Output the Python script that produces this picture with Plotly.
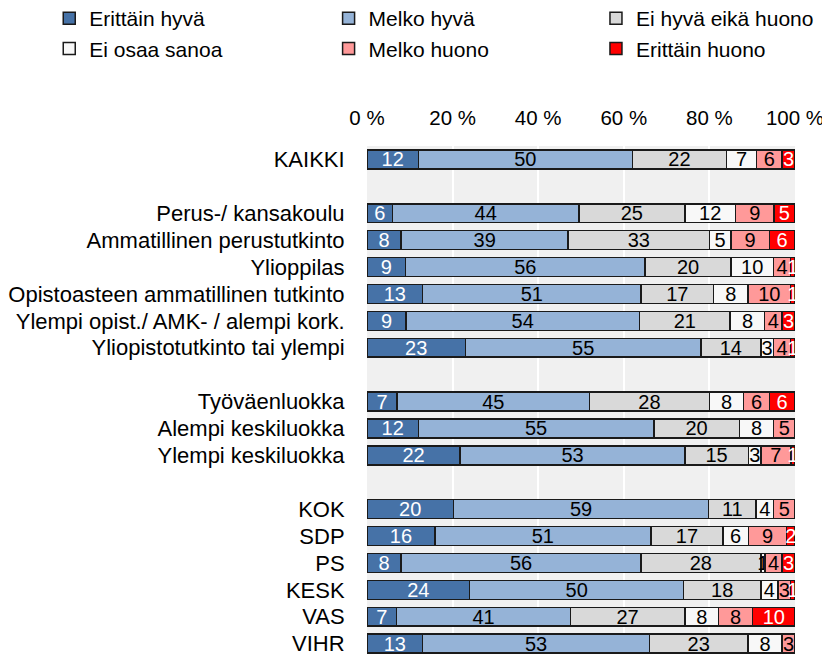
import plotly.graph_objects as go

categories = [
    "KAIKKI", " ",
    "Perus-/ kansakoulu", "Ammatillinen perustutkinto", "Ylioppilas",
    "Opistoasteen ammatillinen tutkinto", "Ylempi opist./ AMK- / alempi kork.",
    "Yliopistotutkinto tai ylempi", "  ",
    "Työväenluokka", "Alempi keskiluokka", "Ylempi keskiluokka", "   ",
    "KOK", "SDP", "PS", "KESK", "VAS", "VIHR",
]

erittain_hyva = [12, None, 6, 8, 9, 13, 9, 23, None, 7, 12, 22, None, 20, 16, 8, 24, 7, 13]
melko_hyva = [50, None, 44, 39, 56, 51, 54, 55, None, 45, 55, 53, None, 59, 51, 56, 50, 41, 53]
ei_hyva_eika_huono = [22, None, 25, 33, 20, 17, 21, 14, None, 28, 20, 15, None, 11, 17, 28, 18, 27, 23]
ei_osaa_sanoa = [7, None, 12, 5, 10, 8, 8, 3, None, 8, 8, 3, None, 4, 6, 1, 4, 8, 8]
melko_huono = [6, None, 9, 9, 4, 10, 4, 4, None, 6, 5, 7, None, 5, 9, 4, 3, 8, 3]
erittain_huono = [3, None, 5, 6, 1, 1, 3, 1, None, 6, 0, 1, None, 0, 2, 3, 1, 10, 0]

series_names = ["Erittäin hyvä", "Melko hyvä", "Ei hyvä eikä huono",
                "Ei osaa sanoa", "Melko huono", "Erittäin huono"]
series_values = [erittain_hyva, melko_hyva, ei_hyva_eika_huono,
                 ei_osaa_sanoa, melko_huono, erittain_huono]
series_colors = ["#4672A7", "#95B3D7", "#D9D9D9", "#F8F8F8", "#FF9999", "#FF0000"]
text_colors = ["white", "black", "black", "black", "black", "white"]
# legend column for each series (legend laid out as 3 columns x 2 rows)
legend_ids = ["legend", "legend2", "legend3", "legend", "legend2", "legend3"]

x_tickvals = [0, 20, 40, 60, 80, 100]
x_ticktext = ["0 %", "20 %", "40 %", "60 %", "80 %", "100 %"]

FONT = "Liberation Sans, Arial, sans-serif"

# the page body has an 8px default margin, so the figure is sized to fill the
# remaining part of the 830x654 window
OFF = 8
W, H = 830 - OFF, 654 - OFF
ML, MR, MT, MB = 366.5 - OFF, 34.5, 146 - OFF, 0
PW, PH = W - ML - MR, H - MT - MB

fig = go.Figure()
for name, vals, col, tcol, lg in zip(series_names, series_values, series_colors,
                                     text_colors, legend_ids):
    fig.add_trace(go.Bar(
        name=name,
        y=categories,
        x=vals,
        orientation="h",
        width=0.7,
        legend=lg,
        marker=dict(color=col, line=dict(color="#1a1a1a", width=1.5)),
        text=[("" if v is None else str(v)) for v in vals],
        textposition="inside",
        insidetextanchor="middle",
        textangle=0,
        constraintext="none",
        textfont=dict(family=FONT, size=20, color=tcol),
        cliponaxis=True,
        hoverinfo="skip",
    ))


def legend_cfg(page_left, page_top=-2):
    return dict(
        orientation="v",
        xref="paper", yref="paper",
        x=(page_left - OFF - ML) / PW,
        y=1 + (MT - (page_top - OFF)) / PH,
        xanchor="left", yanchor="top",
        bgcolor="rgba(0,0,0,0)",
        font=dict(family=FONT, size=21, color="black"),
        traceorder="normal",
        itemclick=False, itemdoubleclick=False,
        tracegroupgap=0,
    )


fig.update_layout(
    width=W,
    height=H,
    barmode="stack",
    barnorm="percent",
    bargap=0.3,
    plot_bgcolor="#F0F0F0",
    paper_bgcolor="white",
    margin=dict(l=ML, r=MR, t=MT, b=MB, autoexpand=False),
    font=dict(family=FONT, size=21, color="black"),
    uniformtext=dict(minsize=20, mode="show"),
    showlegend=True,
    legend=legend_cfg(48),
    legend2=legend_cfg(328),
    legend3=legend_cfg(596),
    xaxis=dict(
        side="top",
        range=[0, 100],
        tickvals=x_tickvals,
        ticktext=x_ticktext,
        showgrid=True,
        gridcolor="white",
        gridwidth=2,
        zeroline=False,
        showline=False,
        ticks="outside",
        ticklen=12,
        tickcolor="rgba(0,0,0,0)",
        tickfont=dict(family=FONT, size=20.5),
        fixedrange=True,
    ),
    yaxis=dict(
        type="category",
        categoryorder="array",
        categoryarray=categories,
        tickmode="array",
        tickvals=categories,
        ticktext=categories,
        range=[18.385, -0.5],
        showgrid=False,
        zeroline=False,
        showline=False,
        ticks="outside",
        ticklen=17,
        tickcolor="rgba(0,0,0,0)",
        tickfont=dict(family=FONT, size=22),
        fixedrange=True,
    ),
)

fig.write_html("out.html")
